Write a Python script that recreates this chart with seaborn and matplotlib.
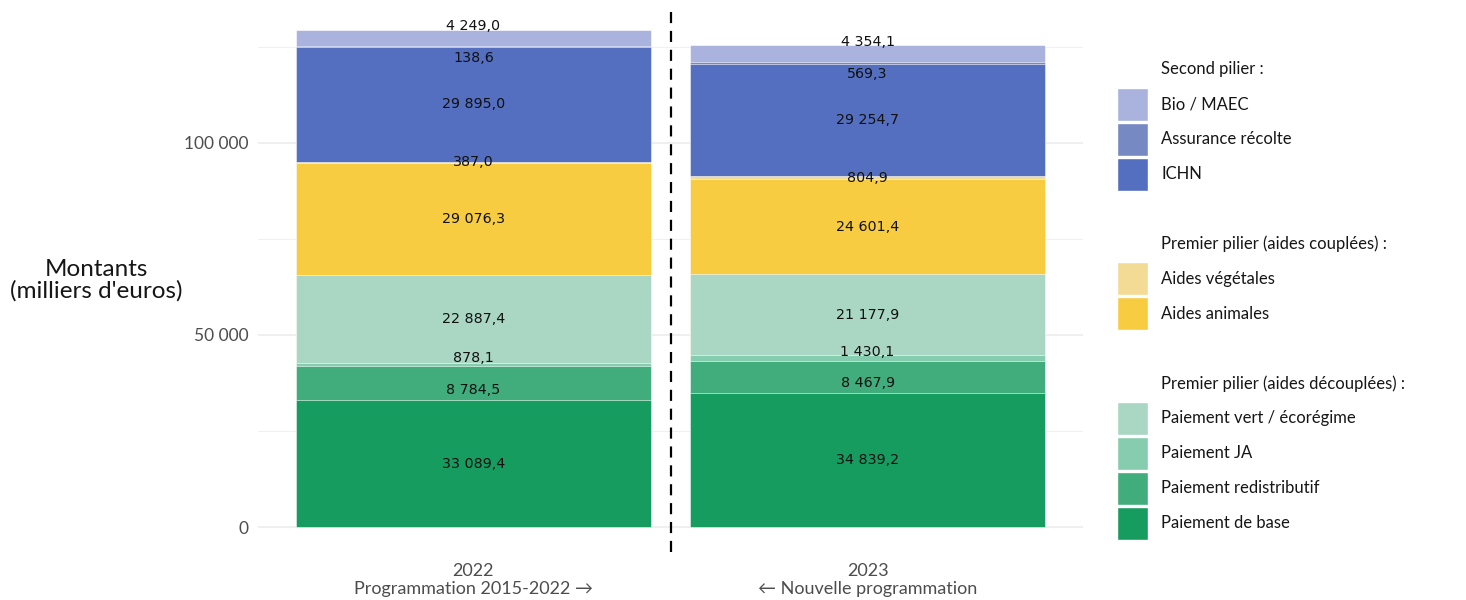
import numpy as np
import pandas as pd
import matplotlib
matplotlib.use("Agg")
import matplotlib.pyplot as plt
from matplotlib.patches import Patch
from matplotlib.ticker import FixedLocator, FuncFormatter
import seaborn as sns

# ---------------- data ----------------
years = ["2022", "2023"]
year_labels = ["2022\nProgrammation 2015-2022 \u2192", "2023\n\u2190 Nouvelle programmation"]
# stack order, bottom to top
categories = ["Paiement de base", "Paiement redistributif", "Paiement JA",
              "Paiement vert / écorégime", "Aides animales", "Aides végétales",
              "ICHN", "Assurance récolte", "Bio / MAEC"]
values_2022 = [33089.4, 8784.5, 878.1, 22887.4, 29076.3, 387.0, 29895.0, 138.6, 4249.0]
values_2023 = [34839.2, 8467.9, 1430.1, 21177.9, 24601.4, 804.9, 29254.7, 569.3, 4354.1]
colors = ["#169c5f", "#41ad7c", "#86ccae", "#a9d7c3", "#f8cc40", "#f3db96",
          "#546fbf", "#7789c3", "#a9b3de"]
legend_groups = [
    ("Second pilier :", ["Bio / MAEC", "Assurance récolte", "ICHN"]),
    ("Premier pilier (aides couplées) :", ["Aides végétales", "Aides animales"]),
    ("Premier pilier (aides découplées) :", ["Paiement vert / écorégime", "Paiement JA",
                                             "Paiement redistributif", "Paiement de base"]),
]
y_ticks = [0, 50000, 100000]
y_minor = [25000, 75000, 125000]

# ---------------- build table ----------------
rows = []
for yr, vals in zip(years, [values_2022, values_2023]):
    cum = np.cumsum(vals)
    for cat, v, c in zip(categories, vals, cum):
        rows.append(dict(year=yr, category=cat, value=v, cum=c, center=c - v / 2))
df = pd.DataFrame(rows)
color_map = dict(zip(categories, colors))

sns.set_theme(style="white")
plt.rcParams["font.family"] = ["Lato", "DejaVu Sans"]

W, H = 1466, 600
fig = plt.figure(figsize=(W / 100, H / 100), dpi=100)
ax = fig.add_axes([258 / W, 48 / H, (1083 - 258) / W, (552 - 5) / H])

# draw stacked bars: cumulative totals, top segments first
for cat in categories[::-1]:
    sub = df[df["category"] == cat]
    sns.barplot(data=sub, x="year", y="cum", order=years, color=color_map[cat],
                saturation=1, width=0.9, errorbar=None, edgecolor="white",
                linewidth=0.4, ax=ax, zorder=2)

# labels with a simple 1-D repel
gap = 8300.0
for i, yr in enumerate(years):
    sub = df[df["year"] == yr].reset_index(drop=True)
    pos = sub["center"].to_numpy().astype(float).copy()
    for _ in range(200):
        moved = False
        for k in range(1, len(pos)):
            d = pos[k] - pos[k - 1]
            if d < gap:
                push = (gap - d) / 2
                pos[k] += push
                pos[k - 1] -= push
                moved = True
        if not moved:
            break
    for k, v in enumerate(sub["value"]):
        txt = f"{v:,.1f}".replace(",", " ").replace(".", ",")
        ax.text(i, pos[k], txt, ha="center", va="center", fontsize=10.3,
                color="#111111", family="DejaVu Sans", zorder=5)

# axes styling
ax.set_xlim(-0.546, 1.546)
ax.set_ylim(-6469, 135855)
for s in ax.spines.values():
    s.set_visible(False)
ax.yaxis.set_major_locator(FixedLocator(y_ticks))
ax.yaxis.set_minor_locator(FixedLocator(y_minor))
ax.yaxis.set_major_formatter(FuncFormatter(lambda v, p: f"{int(v):,}".replace(",", " ")))
ax.grid(axis="y", which="major", color="#ebebeb", linewidth=1.1, zorder=0)
ax.grid(axis="y", which="minor", color="#f0f0f0", linewidth=0.8, zorder=0)
ax.grid(axis="x", visible=False)
ax.set_axisbelow(True)
ax.tick_params(axis="both", which="both", length=0)
ax.tick_params(axis="y", pad=7, labelsize=12.5, labelcolor="#4d4d4d")
ax.tick_params(axis="x", pad=8, labelsize=13, labelcolor="#4d4d4d")
ax.set_xticks([0, 1])
ax.set_xticklabels(year_labels, linespacing=1.15)
ax.set_xlabel("")
ax.set_ylabel("Montants\n(milliers d'euros)", rotation=0, fontsize=17.5,
              color="#161616", ha="center", va="center", linespacing=1.0)
ax.yaxis.set_label_coords((96 - 258) / (1083 - 258), (552 - 280) / (552 - 5))

# dashed separator
ax.axvline(0.5, color="black", linewidth=1.6, linestyle=(0, (5, 3.5)),
           zorder=6, clip_on=False)

# legend
handles, labels = [], []
for gi, (title, cats) in enumerate(legend_groups):
    if gi > 0:
        handles.append(Patch(facecolor="none", edgecolor="none"))
        labels.append(" ")
    handles.append(Patch(facecolor="none", edgecolor="none"))
    labels.append(title)
    for c in cats:
        handles.append(Patch(facecolor=color_map[c], edgecolor="white", linewidth=1.0))
        labels.append(c)
leg = fig.legend(handles, labels, loc="upper left",
                 bbox_to_anchor=(1117 / W, 1 - 53 / H), bbox_transform=fig.transFigure,
                 frameon=False, fontsize=12, handlelength=1.85, handleheight=2.66,
                 labelspacing=0.12, handletextpad=0.8, borderpad=0, borderaxespad=0)
for t in leg.get_texts():
    t.set_color("#161616")

fig.savefig("out.png", dpi=100)
